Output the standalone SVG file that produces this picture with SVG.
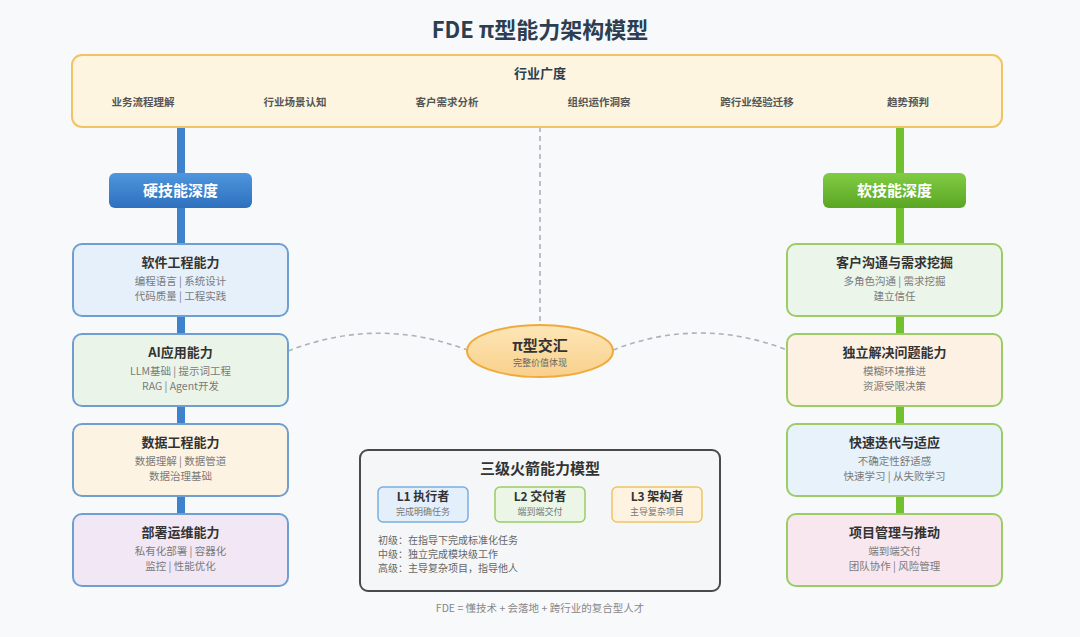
<svg xmlns="http://www.w3.org/2000/svg" width="1080" height="637" viewBox="0 0 1080 637">
<defs>
<linearGradient id="gBlue" x1="0" y1="0" x2="0" y2="1"><stop offset="0" stop-color="#4e96dd"/><stop offset="1" stop-color="#2e70bd"/></linearGradient>
<linearGradient id="gGreen" x1="0" y1="0" x2="0" y2="1"><stop offset="0" stop-color="#82cc44"/><stop offset="1" stop-color="#5aa623"/></linearGradient>
<linearGradient id="gOrange" x1="0" y1="0" x2="0" y2="1"><stop offset="0" stop-color="#fde6b8"/><stop offset="1" stop-color="#f9d08a"/></linearGradient>
<marker id="arr" viewBox="0 0 10 10" refX="9" refY="5" markerWidth="7" markerHeight="7" orient="auto" markerUnits="userSpaceOnUse"><path d="M1,1 L9,5 L1,9" fill="none" stroke="#333" stroke-width="2"/></marker>
</defs>
<style>
text{font-family:"Noto Sans CJK SC","Noto Sans",sans-serif;text-anchor:middle}
.title{font-size:22px;font-weight:700;fill:#2c3e50}
.bt{font-size:13px;font-weight:700;fill:#2c3e50}
.item{font-size:10.5px;font-weight:700;fill:#555}
.hd{font-size:15px;font-weight:700;fill:#fff}
.nt{font-size:13px;font-weight:700;fill:#333}
.ns{font-size:10.5px;fill:#7a7a7a}
.lbox{stroke:#6e9fd0;stroke-width:2}
.rbox{stroke:#9ccc65;stroke-width:2}
.dash{fill:none;stroke:#aab2ba;stroke-width:1.6;stroke-dasharray:5 4}
.lv{font-size:12px;font-weight:700;fill:#333}
.lvs{font-size:9px;fill:#777}
.desc{font-size:10px;fill:#666;text-anchor:start}
</style>
<rect width="1080" height="637" fill="#f7f9fb"/>
<text class="title" x="540" y="38">FDE π型能力架构模型</text>

<g id="connectors">
<line x1="181" y1="127" x2="181" y2="520" stroke="#3f82cc" stroke-width="8"/>
<line x1="900" y1="127" x2="900" y2="520" stroke="#72bf30" stroke-width="8"/>
<line class="dash" x1="540" y1="127" x2="540" y2="325"/>
<path class="dash" d="M288,351 Q378,316 467,350"/>
<path class="dash" d="M613,350 Q700,316 787,350"/>
<line x1="470" y1="503" x2="489" y2="503" stroke="#333" stroke-width="2" marker-end="url(#arr)"/>
<line x1="587" y1="503" x2="606" y2="503" stroke="#333" stroke-width="2" marker-end="url(#arr)"/>
</g>

<g id="banner">
<rect x="72" y="55" width="930" height="72" rx="10" fill="#fdf5e0" stroke="#f0c464" stroke-width="2"/>
<text class="bt" x="540" y="78">行业广度</text>
<text class="item" x="143" y="106">业务流程理解</text>
<text class="item" x="295" y="106">行业场景认知</text>
<text class="item" x="447" y="106">客户需求分析</text>
<text class="item" x="599" y="106">组织运作洞察</text>
<text class="item" x="757" y="106">跨行业经验迁移</text>
<text class="item" x="908" y="106">趋势预判</text>
</g>

<g id="hard-header">
<rect x="109" y="173" width="143" height="35" rx="6" fill="url(#gBlue)"/>
<text class="hd" x="180.5" y="196">硬技能深度</text>
</g>
<g id="soft-header">
<rect x="823" y="173" width="143" height="35" rx="6" fill="url(#gGreen)"/>
<text class="hd" x="894.5" y="196">软技能深度</text>
</g>

<g id="h1">
<rect class="lbox" x="73" y="244" width="215" height="72" rx="9" fill="#e6f0fb"/>
<text class="nt" x="180.5" y="267">软件工程能力</text>
<text class="ns" x="180.5" y="285">编程语言 | 系统设计</text>
<text class="ns" x="180.5" y="300">代码质量 | 工程实践</text>
</g>
<g id="h2">
<rect class="lbox" x="73" y="334" width="215" height="72" rx="9" fill="#ebf4e8"/>
<text class="nt" x="180.5" y="357">AI应用能力</text>
<text class="ns" x="180.5" y="375">LLM基础 | 提示词工程</text>
<text class="ns" x="180.5" y="390">RAG | Agent开发</text>
</g>
<g id="h3">
<rect class="lbox" x="73" y="424" width="215" height="72" rx="9" fill="#fdf3e3"/>
<text class="nt" x="180.5" y="447">数据工程能力</text>
<text class="ns" x="180.5" y="465">数据理解 | 数据管道</text>
<text class="ns" x="180.5" y="480">数据治理基础</text>
</g>
<g id="h4">
<rect class="lbox" x="73" y="514" width="215" height="72" rx="9" fill="#f2e7f5"/>
<text class="nt" x="180.5" y="537">部署运维能力</text>
<text class="ns" x="180.5" y="555">私有化部署 | 容器化</text>
<text class="ns" x="180.5" y="570">监控 | 性能优化</text>
</g>

<g id="s1">
<rect class="rbox" x="787" y="244" width="215" height="72" rx="9" fill="#ebf5ea"/>
<text class="nt" x="894.5" y="267">客户沟通与需求挖掘</text>
<text class="ns" x="894.5" y="285">多角色沟通 | 需求挖掘</text>
<text class="ns" x="894.5" y="300">建立信任</text>
</g>
<g id="s2">
<rect class="rbox" x="787" y="334" width="215" height="72" rx="9" fill="#fdf1e3"/>
<text class="nt" x="894.5" y="357">独立解决问题能力</text>
<text class="ns" x="894.5" y="375">模糊环境推进</text>
<text class="ns" x="894.5" y="390">资源受限决策</text>
</g>
<g id="s3">
<rect class="rbox" x="787" y="424" width="215" height="72" rx="9" fill="#e7f2fa"/>
<text class="nt" x="894.5" y="447">快速迭代与适应</text>
<text class="ns" x="894.5" y="465">不确定性舒适感</text>
<text class="ns" x="894.5" y="480">快速学习 | 从失败学习</text>
</g>
<g id="s4">
<rect class="rbox" x="787" y="514" width="215" height="72" rx="9" fill="#f8e7ef"/>
<text class="nt" x="894.5" y="537">项目管理与推动</text>
<text class="ns" x="894.5" y="555">端到端交付</text>
<text class="ns" x="894.5" y="570">团队协作 | 风险管理</text>
</g>

<g id="pi-node">
<ellipse cx="540" cy="351" rx="73" ry="26" fill="url(#gOrange)" stroke="#f0aa3c" stroke-width="2"/>
<text x="540" y="351" style="font-size:15px;font-weight:700;fill:#333">π型交汇</text>
<text x="540" y="366" style="font-size:9px;fill:#666">完整价值体现</text>
</g>

<g id="rocket">
<rect x="360" y="450" width="360" height="141" rx="8" fill="#f5f6f7" stroke="#4a4a4a" stroke-width="2"/>
<text x="540" y="474" style="font-size:15px;font-weight:700;fill:#333">三级火箭能力模型</text>
</g>
<g id="L1">
<rect x="378" y="487" width="90" height="35" rx="5" fill="#e3effb" stroke="#7aaee0" stroke-width="1.5"/>
<text class="lv" x="423" y="501">L1 执行者</text>
<text class="lvs" x="423" y="515">完成明确任务</text>
</g>
<g id="L2">
<rect x="495" y="487" width="90" height="35" rx="5" fill="#ebf6e6" stroke="#9ccc65" stroke-width="1.5"/>
<text class="lv" x="540" y="501">L2 交付者</text>
<text class="lvs" x="540" y="515">端到端交付</text>
</g>
<g id="L3">
<rect x="612" y="487" width="90" height="35" rx="5" fill="#fdf3e0" stroke="#f0c464" stroke-width="1.5"/>
<text class="lv" x="657" y="501">L3 架构者</text>
<text class="lvs" x="657" y="515">主导复杂项目</text>
</g>
<g id="levels">
<text class="desc" x="378" y="544">初级：在指导下完成标准化任务</text>
<text class="desc" x="378" y="558">中级：独立完成模块级工作</text>
<text class="desc" x="378" y="572">高级：主导复杂项目，指导他人</text>
</g>
<text x="540" y="612" style="font-size:10.5px;fill:#888">FDE = 懂技术 + 会落地 + 跨行业的复合型人才</text>
</svg>
